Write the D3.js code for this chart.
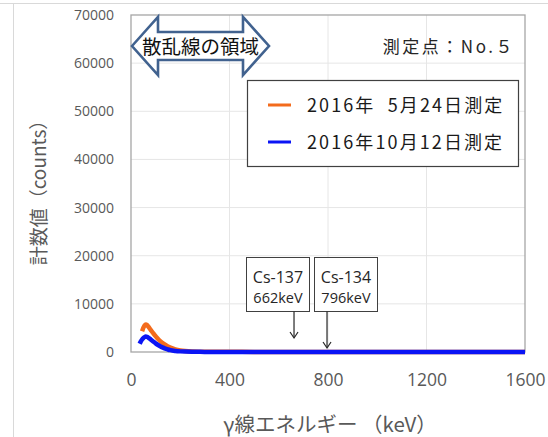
<!DOCTYPE html>
<html>
<head>
<meta charset="utf-8">
<script src="https://cdn.jsdelivr.net/npm/d3@7"></script>
<style>
  body { margin: 0; background: #fff; }
  text { font-family: "Open Sans", "Noto Sans CJK JP", sans-serif; }
  .jp { font-family: "Noto Sans CJK JP", sans-serif; white-space: pre; }
</style>
</head>
<body>
<script>
// energy (keV) / counts
const mayEnergy = [45, 50, 55, 60, 65, 70, 80, 90, 100, 110, 120, 130, 140, 150, 160, 180, 200, 220, 250, 280, 320, 400, 500, 600, 700, 800, 900, 1000, 1200, 1400, 1600]
const mayCounts = [4300, 5000, 5500, 5700, 5600, 5300, 4600, 3900, 3300, 2700, 2200, 1800, 1450, 1150, 900, 550, 330, 200, 100, 60, 40, 30, 25, 20, 18, 15, 12, 10, 8, 6, 5]

const octEnergy = [35, 40, 45, 50, 55, 60, 65, 70, 80, 90, 100, 110, 120, 130, 140, 150, 160, 180, 200, 220, 250, 280, 320, 400, 500, 600, 700, 800, 900, 1000, 1200, 1400, 1600]
const octCounts = [1700, 2200, 2600, 2900, 3100, 3200, 3150, 3000, 2600, 2200, 1800, 1450, 1150, 900, 700, 520, 380, 220, 130, 80, 45, 30, 20, 15, 12, 10, 9, 8, 7, 6, 5, 4, 3]

const xTicks = [0, 400, 800, 1200, 1600]
const yTicks = [0, 10000, 20000, 30000, 40000, 50000, 60000, 70000]

const seriesNames = ['2016年  5月24日測定', '2016年10月12日測定']
const seriesColors = ['#f36b1c', '#0a14f5']

const peaks = [
  { name: 'Cs-137', label: '662keV', e: 662 },
  { name: 'Cs-134', label: '796keV', e: 796 }
]

const W = 548, H = 437
const svg = d3.select('body').append('svg')
  .attr('width', W).attr('height', H)

// frame bits from the screenshot
svg.append('line').attr('x1', 0).attr('x2', W).attr('y1', 3.5).attr('y2', 3.5)
  .attr('stroke', '#d9d9d9')
svg.append('line').attr('x1', 13.5).attr('x2', 13.5).attr('y1', 3).attr('y2', H)
  .attr('stroke', '#d9d9d9')

const x = d3.scaleLinear().domain([0, 1600]).range([131, 525])
const y = d3.scaleLinear().domain([0, 70000]).range([352, 15])

// grid
svg.append('g').selectAll('line.gy')
  .data(yTicks.slice(1, -1))
  .enter().append('line')
  .attr('x1', x(0)).attr('x2', x(1600))
  .attr('y1', d => y(d)).attr('y2', d => y(d))
  .attr('stroke', '#e6e6e6')
svg.append('g').selectAll('line.gx')
  .data(xTicks.slice(1, -1))
  .enter().append('line')
  .attr('x1', d => x(d)).attr('x2', d => x(d))
  .attr('y1', y(0)).attr('y2', y(70000))
  .attr('stroke', '#e6e6e6')

// axes
const yAxis = svg.append('g')
  .attr('transform', `translate(${x(0)},0)`)
  .call(d3.axisLeft(y).tickValues(yTicks).tickSize(0).tickPadding(17).tickFormat(d3.format('d')))
yAxis.select('.domain').remove()
yAxis.selectAll('text').attr('fill', '#595959').style('font-size', '14px')

const xAxis = svg.append('g')
  .attr('transform', `translate(0,${y(0)})`)
  .call(d3.axisBottom(x).tickValues(xTicks).tickSize(0).tickPadding(22).tickFormat(d3.format('d')))
xAxis.select('.domain').remove()
xAxis.selectAll('text').attr('fill', '#595959').style('font-size', '17.5px')

// plot frame
svg.append('rect')
  .attr('x', x(0)).attr('y', y(70000))
  .attr('width', x(1600) - x(0)).attr('height', y(0) - y(70000))
  .attr('fill', 'none').attr('stroke', '#a6a6a6').attr('stroke-width', 1.3)

// series
const line = d3.line().x(d => x(d[0])).y(d => y(d[1])).curve(d3.curveMonotoneX)
const series = [
  d3.zip(mayEnergy, mayCounts),
  d3.zip(octEnergy, octCounts)
]
svg.append('g').selectAll('path.s')
  .data(series)
  .enter().append('path')
  .attr('d', line)
  .attr('fill', 'none')
  .attr('stroke', (d, i) => seriesColors[i])
  .attr('stroke-width', 4.5)
  .attr('stroke-linejoin', 'round')

// axis titles
svg.append('text')
  .attr('class', 'jp')
  .attr('transform', 'translate(46,188) rotate(-90)')
  .attr('text-anchor', 'middle')
  .attr('fill', '#595959')
  .style('font-size', '19px')
  .text('計数値（counts）')

svg.append('text')
  .attr('class', 'jp')
  .attr('x', 330).attr('y', 432)
  .attr('text-anchor', 'middle')
  .attr('fill', '#595959')
  .style('font-size', '20.5px')
  .text('γ線エネルギー （keV）')

// point title
svg.append('text')
  .attr('class', 'jp')
  .attr('x', 515).attr('y', 53)
  .attr('text-anchor', 'end')
  .attr('fill', '#262626')
  .style('font-size', '17px')
  .style('letter-spacing', '2.5px')
  .text('測定点：No.５')

// legend
const lg = svg.append('g')
lg.append('rect')
  .attr('x', 247.5).attr('y', 80.5).attr('width', 271).attr('height', 86)
  .attr('fill', '#fff').attr('stroke', '#404040').attr('stroke-width', 1.2)
seriesNames.forEach((n, i) => {
  const yy = 105 + i * 37
  lg.append('line')
    .attr('x1', 268).attr('x2', 291).attr('y1', yy).attr('y2', yy)
    .attr('stroke', seriesColors[i]).attr('stroke-width', 3)
  lg.append('text')
    .attr('class', 'jp')
    .attr('x', 307).attr('y', yy + 6.5)
    .attr('fill', '#1a1a1a')
    .style('font-size', '18px')
    .style('letter-spacing', '2.1px')
    .text(n)
})

// scatter region arrow
const a0 = x(0) + 1, a1 = 269, h = 26, sy0 = 32, sy1 = 60, hy0 = 17, hy1 = 75, my = 46
const arrow = [
  [a0, my], [a0 + h, hy0], [a0 + h, sy0], [a1 - h, sy0], [a1 - h, hy0], [a1, my],
  [a1 - h, hy1], [a1 - h, sy1], [a0 + h, sy1], [a0 + h, hy1]
]
svg.append('path')
  .attr('d', d3.line()(arrow) + 'Z')
  .attr('fill', '#fff').attr('stroke', '#41628f').attr('stroke-width', 2.6)
  .attr('stroke-linejoin', 'miter')
svg.append('text')
  .attr('class', 'jp')
  .attr('x', (a0 + a1) / 2).attr('y', 54)
  .attr('text-anchor', 'middle')
  .attr('fill', '#111')
  .style('font-size', '19.5px')
  .text('散乱線の領域')

// peak callouts
const pk = svg.append('g').selectAll('g.pk')
  .data(peaks)
  .enter().append('g')
pk.append('rect')
  .attr('x', (d, i) => i === 0 ? 246.5 : 314.5).attr('y', 257.5)
  .attr('width', 63).attr('height', 54)
  .attr('fill', '#fff').attr('stroke', '#404040').attr('stroke-width', 1)
pk.append('text')
  .attr('x', (d, i) => (i === 0 ? 246.5 : 314.5) + 31.5).attr('y', 283)
  .attr('text-anchor', 'middle').attr('fill', '#262626')
  .style('font-size', '16px')
  .text(d => d.name)
pk.append('text')
  .attr('x', (d, i) => (i === 0 ? 246.5 : 314.5) + 31.5).attr('y', 303)
  .attr('text-anchor', 'middle').attr('fill', '#262626')
  .style('font-size', '14.5px')
  .text(d => d.label)
pk.append('line')
  .attr('x1', d => x(d.e)).attr('x2', d => x(d.e))
  .attr('y1', 311.5).attr('y2', (d, i) => i === 0 ? 337 : 347)
  .attr('stroke', '#262626').attr('stroke-width', 1.2)
pk.append('path')
  .attr('d', (d, i) => {
    const xx = x(d.e), yy = i === 0 ? 338 : 348
    return `M${xx - 4},${yy - 6} L${xx},${yy} L${xx + 4},${yy - 6}`
  })
  .attr('fill', 'none').attr('stroke', '#262626').attr('stroke-width', 1.2)
</script>
</body>
</html>
